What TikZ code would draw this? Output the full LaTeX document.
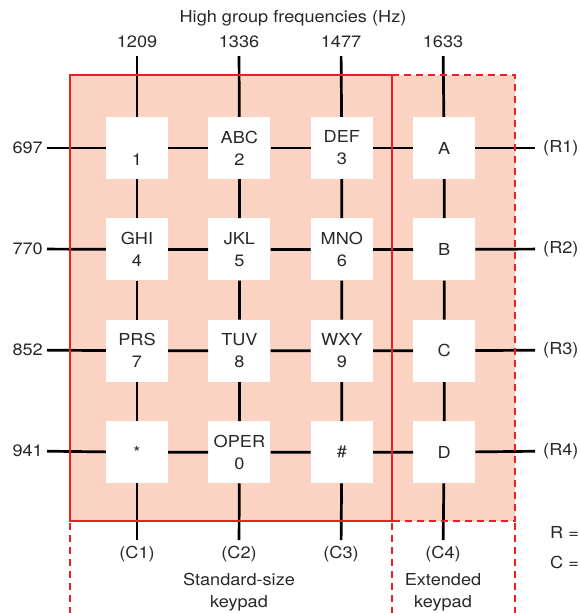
\documentclass[tikz,border=0pt]{standalone}
\usepackage{fontspec}
\setmainfont[FakeStretch=1.1]{TeX Gyre Heros}
\usetikzlibrary{positioning}
\definecolor{padfill}{RGB}{251,211,194}
\definecolor{padred}{RGB}{236,30,38}
\definecolor{labelgray}{RGB}{40,40,40}

\begin{document}
\begin{tikzpicture}[x=1pt,y=-1pt,font=\fontsize{16.5}{22}\selectfont,node distance=40pt,
   key/.style={fill=white,minimum size=62pt,inner sep=0pt,align=center,text=labelgray},
   wire/.style={line width=2.7pt,black},
   toplbl/.style={inner sep=8pt,text=labelgray},
   leftlbl/.style={inner sep=4pt,anchor=east,text=labelgray},
   rightlbl/.style={inner sep=8pt,anchor=west,text=labelgray},
   botlbl/.style={inner sep=6pt,anchor=north,text=labelgray},
   padline/.style={padred,line width=2.6pt},
   paddash/.style={padred,line width=2.6pt,dash pattern=on 7pt off 5pt}]
  \useasboundingbox (0,0) rectangle (579,613);
  \fill[padfill] (70,75) rectangle (515,521);

  % keys
  \node[key] (k1) at (137,148) {\phantom{ABC}\\1};
  \node[key,right=of k1] (k2) {ABC\\2};
  \node[key,right=of k2] (k3) {DEF\\3};
  \node[key,right=of k3] (kA) {A};
  \node[key,below=39pt of k1] (k4) {GHI\\4};
  \node[key,right=of k4] (k5) {JKL\\5};
  \node[key,right=of k5] (k6) {MNO\\6};
  \node[key,right=of k6] (kB) {B};
  \node[key,below=39pt of k4] (k7) {PRS\\7};
  \node[key,right=of k7] (k8) {TUV\\8};
  \node[key,right=of k8] (k9) {WXY\\9};
  \node[key,right=of k9] (kC) {C};
  \node[key,below=39pt of k7] (kstar) {*};
  \node[key,right=of kstar] (k0) {OPER\\0};
  \node[key,right=of k0] (khash) {\#};
  \node[key,right=of khash] (kD) {D};

  % frequency labels
  \node[text=labelgray] (hdr) at (293,18) {High group frequencies (Hz)};
  \node[toplbl] (h1209) at (137,42) {1209};
  \node[toplbl] (h1336) at (239,42) {1336};
  \node[toplbl] (h1477) at (341,42) {1477};
  \node[toplbl] (h1633) at (443,42) {1633};
  \node[leftlbl] (l697) at (47,148) {697};
  \node[leftlbl] (l770) at (47,249) {770};
  \node[leftlbl] (l852) at (47,350) {852};
  \node[leftlbl] (l941) at (47,451) {941};
  \node[rightlbl] (r1) at (535,148) {(R1)};
  \node[rightlbl] (r2) at (535,249) {(R2)};
  \node[rightlbl] (r3) at (535,350) {(R3)};
  \node[rightlbl] (r4) at (535,451) {(R4)};
  \node[botlbl] (c1) at (137,540) {(C1)};
  \node[botlbl] (c2) at (239,540) {(C2)};
  \node[botlbl] (c3) at (341,540) {(C3)};
  \node[botlbl] (c4) at (443,540) {(C4)};
  \node[align=center,text=labelgray] (std) at (239,592) {Standard-size\\keypad};
  \node[align=center,text=labelgray] (ext) at (443,592) {Extended\\keypad};
  \node[anchor=west,inner sep=0pt,text=labelgray] (req) at (550,532) {R =};
  \node[anchor=west,inner sep=0pt,text=labelgray] (ceq) at (550,562) {C =};

  % row and column wires
  \draw[wire] (l697) -- (k1) -- (k2) -- (k3) -- (kA) -- (r1);
  \draw[wire] (l770) -- (k4) -- (k5) -- (k6) -- (kB) -- (r2);
  \draw[wire] (l852) -- (k7) -- (k8) -- (k9) -- (kC) -- (r3);
  \draw[wire] (l941) -- (kstar) -- (k0) -- (khash) -- (kD) -- (r4);
  \draw[wire] (h1209) -- (k1) -- (k4) -- (k7) -- (kstar) -- (c1);
  \draw[wire] (h1336) -- (k2) -- (k5) -- (k8) -- (k0) -- (c2);
  \draw[wire] (h1477) -- (k3) -- (k6) -- (k9) -- (khash) -- (c3);
  \draw[wire] (h1633) -- (kA) -- (kB) -- (kC) -- (kD) -- (c4);

  % keypad outlines
  \draw[padline] (70,75) rectangle (392,521);
  \draw[paddash] (392,75) -- (515,75) -- (515,521) -- (392,521);
  \draw[paddash] (70,523) -- (70,613);
  \draw[paddash] (392,523) -- (392,613);
  \draw[paddash] (515,523) -- (515,613);
\end{tikzpicture}
\end{document}
